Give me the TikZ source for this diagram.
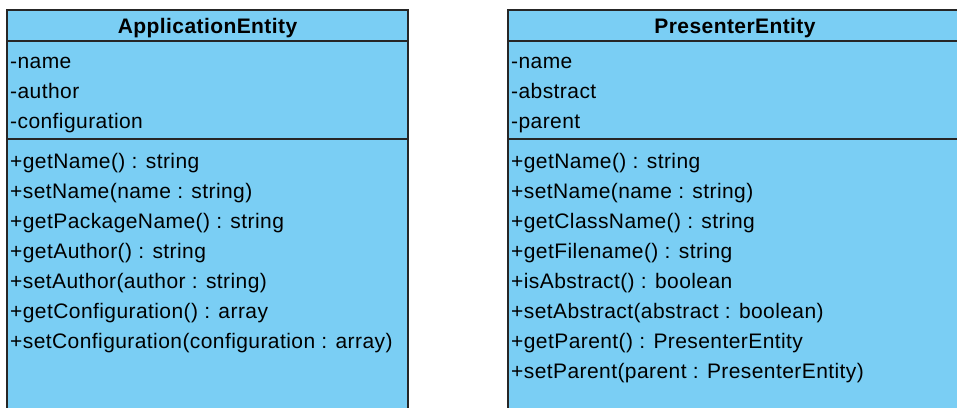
\documentclass[tikz,border=0pt]{standalone}
\usepackage{fontspec}
\setmainfont{Liberation Sans}[LetterSpace=2]
\definecolor{classfill}{RGB}{122,206,244}
\tikzset{
	classbox/.style={fill=classfill, draw=black!85, line width=1.6pt},
	divider/.style={draw=black!85, line width=1.6pt},
	classname/.style={anchor=base, inner sep=0pt, font=\fontsize{21}{25}\selectfont\bfseries},
	member/.style={anchor=base west, inner sep=0pt, font=\fontsize{21}{25}\selectfont}
}
\begin{document}
\begin{tikzpicture}[x=1pt, y=1pt]
\useasboundingbox (0,0) rectangle (957,-407);
% ApplicationEntity
\draw[classbox] (7,-10) rectangle (408,-430);
\draw[divider] (7,-41) -- (408,-41);
\draw[divider] (7,-139) -- (408,-139);
\node[classname] (app-name) at (207.5,-33) {ApplicationEntity};
\foreach \t [count=\i] in {-name,-author,-configuration} {
	\node[member] (app-attr-\i) at (10,{-38-30*\i}) {\t};
}
\foreach \t [count=\i] in {+getName() : string, +setName(name : string), +getPackageName() : string, +getAuthor() : string, +setAuthor(author : string), +getConfiguration() : array, +setConfiguration(configuration : array)} {
	\node[member] (app-op-\i) at (10,{-138-30*\i}) {\t};
}
% PresenterEntity
\draw[classbox] (508,-10) rectangle (962,-430);
\draw[divider] (508,-41) -- (962,-41);
\draw[divider] (508,-139) -- (962,-139);
\node[classname] (pres-name) at (735,-33) {PresenterEntity};
\foreach \t [count=\i] in {-name,-abstract,-parent} {
	\node[member] (pres-attr-\i) at (511,{-38-30*\i}) {\t};
}
\foreach \t [count=\i] in {+getName() : string, +setName(name : string), +getClassName() : string, +getFilename() : string, +isAbstract() : boolean, +setAbstract(abstract : boolean), +getParent() : PresenterEntity, +setParent(parent : PresenterEntity)} {
	\node[member] (pres-op-\i) at (511,{-138-30*\i}) {\t};
}
\end{tikzpicture}
\end{document}
